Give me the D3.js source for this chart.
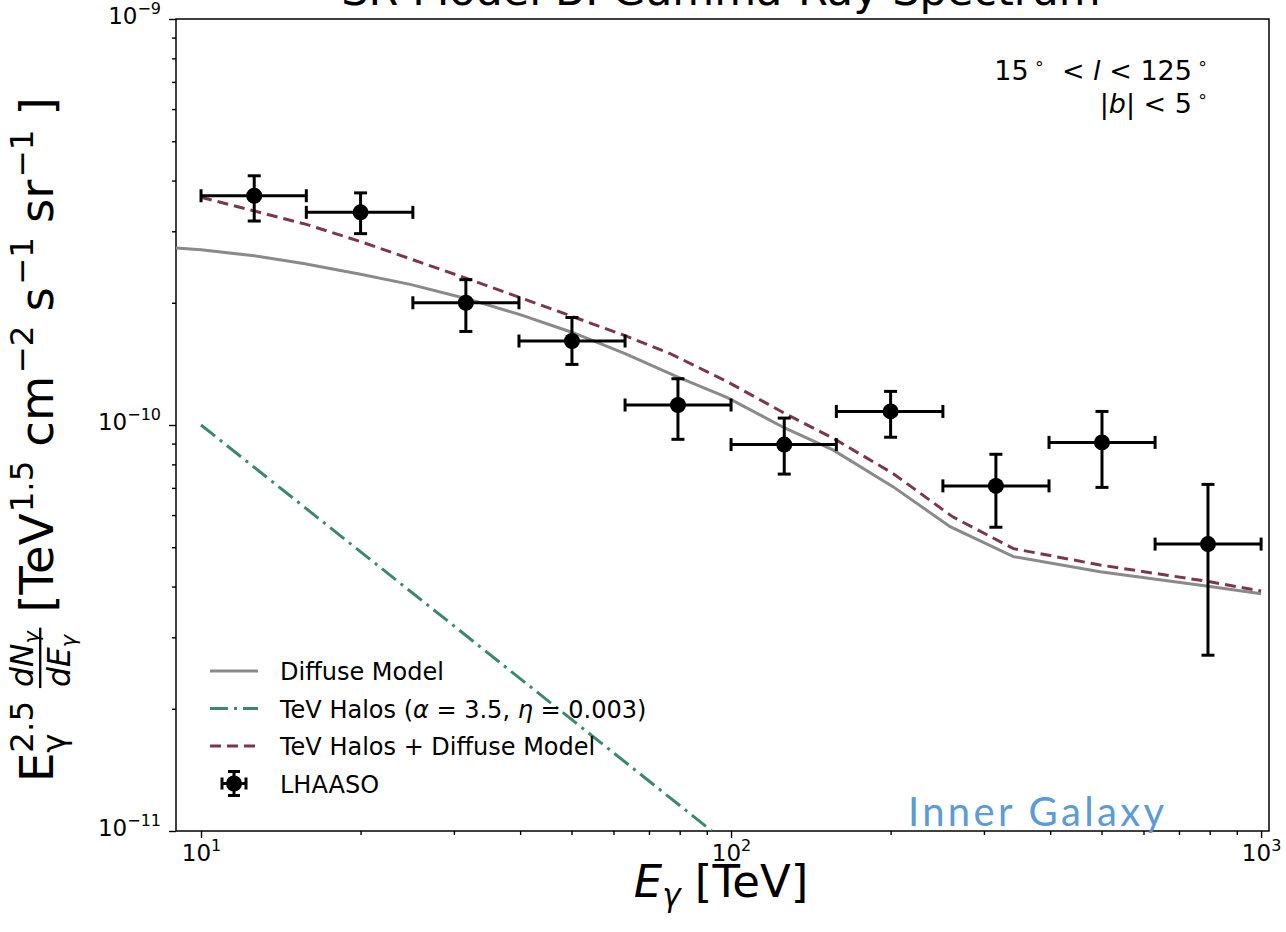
<!DOCTYPE html>
<html>
<head>
<meta charset="utf-8">
<script src="https://cdn.jsdelivr.net/npm/d3@7"></script>
<style>
  body { margin: 0; background: #fff; }
  text { font-family: "DejaVu Sans", sans-serif; fill: #000; }
</style>
</head>
<body>
<div class="canvas"></div>
<script>
// LHAASO points: bin centre / edges in TeV, flux and its error range
const binCentre = [12.6, 20.0, 31.6, 50.1, 79.4, 126, 200, 316, 501, 794];
const binLow = [10, 15.8, 25.1, 39.8, 63.1, 100, 158, 251, 398, 631];
const binHigh = [15.8, 25.1, 39.8, 63.1, 100, 158, 251, 398, 631, 1000];
const flux = [3.67e-10, 3.34e-10, 2.00e-10, 1.61e-10, 1.12e-10, 8.95e-11, 1.08e-10, 7.08e-11, 9.06e-11, 5.09e-11];
const fluxLow = [3.18e-10, 2.96e-10, 1.70e-10, 1.41e-10, 9.22e-11, 7.57e-11, 9.33e-11, 5.60e-11, 7.02e-11, 2.71e-11];
const fluxHigh = [4.11e-10, 3.73e-10, 2.28e-10, 1.84e-10, 1.30e-10, 1.04e-10, 1.21e-10, 8.47e-11, 1.08e-10, 7.14e-11];

// model curves
const diffuseE = [8.97, 10, 12.6, 15.6, 20.0, 24.8, 31.6, 40.0, 50.2, 63.1, 79.6, 98.2, 126.5, 156, 202, 259, 341, 497, 801, 1000];
const diffuseF = [2.73e-10, 2.70e-10, 2.61e-10, 2.50e-10, 2.35e-10, 2.22e-10, 2.05e-10, 1.87e-10, 1.69e-10, 1.50e-10, 1.31e-10, 1.17e-10, 9.82e-11, 8.67e-11, 7.05e-11, 5.62e-11, 4.74e-11, 4.35e-11, 4.00e-11, 3.84e-11];
const haloE = [10, 30, 92];
const haloF = [1.0e-10, 3.2e-11, 1.0e-11];
const combinedE = [10, 15.8, 20, 31.6, 40, 50.2, 63.1, 76.7, 98.2, 126, 156, 202, 262, 341, 497, 801, 1000];
const combinedF = [3.64e-10, 3.12e-10, 2.83e-10, 2.30e-10, 2.06e-10, 1.85e-10, 1.66e-10, 1.50e-10, 1.28e-10, 1.07e-10, 9.27e-11, 7.60e-11, 5.94e-11, 4.96e-11, 4.52e-11, 4.11e-11, 3.90e-11];

// ticks
const xMajorTicks = [10, 100, 1000];
const xTickExp = ['1', '2', '3'];
const xMinorTicks = [20, 30, 40, 50, 60, 70, 80, 90, 200, 300, 400, 500, 600, 700, 800, 900];
const yMajorTicks = [1e-11, 1e-10, 1e-9];
const yTickExp = ['\u221211', '\u221210', '\u22129'];
const yMinorTicks = [2e-11, 3e-11, 4e-11, 5e-11, 6e-11, 7e-11, 8e-11, 9e-11, 2e-10, 3e-10, 4e-10, 5e-10, 6e-10, 7e-10, 8e-10, 9e-10];

const legendLabels = ['Diffuse Model', 'TeV Halos', 'TeV Halos + Diffuse Model', 'LHAASO'];

const width = 1286;
const height = 932;
const margin = { top: 19, right: 17, bottom: 101, left: 176 };
const graphWidth = width - margin.left - margin.right;
const graphHeight = height - margin.top - margin.bottom;

const svg = d3.select('.canvas').append('svg')
  .attr('width', width)
  .attr('height', height);

const graph = svg.append('g')
  .attr('transform', `translate(${margin.left}, ${margin.top})`);

svg.append('defs').append('clipPath').attr('id', 'plot-clip')
  .append('rect').attr('width', graphWidth).attr('height', graphHeight);

const x = d3.scaleLog().domain([8.97, 1035]).range([0, graphWidth]);
const y = d3.scaleLog().domain([1e-11, 1e-9]).range([graphHeight, 0]);

// axes: minor ticks first, then major ticks with 10^n labels
const xMinorGroup = graph.append('g').attr('transform', `translate(0, ${graphHeight})`)
  .call(d3.axisBottom(x).tickValues(xMinorTicks).tickSize(4).tickFormat(''));
const xMajorGroup = graph.append('g').attr('transform', `translate(0, ${graphHeight})`)
  .call(d3.axisBottom(x).tickValues(xMajorTicks).tickSize(7).tickPadding(7).tickFormat(''));
const yMinorGroup = graph.append('g')
  .call(d3.axisLeft(y).tickValues(yMinorTicks).tickSize(4).tickFormat(''));
const yMajorGroup = graph.append('g')
  .call(d3.axisLeft(y).tickValues(yMajorTicks).tickSize(7).tickPadding(8).tickFormat(''));

[xMinorGroup, xMajorGroup, yMinorGroup, yMajorGroup].forEach(g => {
  g.select('.domain').remove();
  g.selectAll('line').attr('stroke', '#000').attr('stroke-width', 1.4);
});

xMajorGroup.selectAll('.tick text').each(function(d, i) {
  const t = d3.select(this).attr('font-size', 23).attr('font-family', 'DejaVu Sans');
  t.append('tspan').text('10');
  t.append('tspan').attr('dy', -10).attr('font-size', 16).text(xTickExp[i]);
});
yMajorGroup.selectAll('.tick text').each(function(d, i) {
  const t = d3.select(this).attr('font-size', 23).attr('font-family', 'DejaVu Sans').attr('dy', '0.2em');
  t.append('tspan').text('10');
  t.append('tspan').attr('dy', -10).attr('font-size', 16).text(yTickExp[i]);
});

// frame
graph.append('rect')
  .attr('width', graphWidth)
  .attr('height', graphHeight)
  .attr('fill', 'none')
  .attr('stroke', '#000')
  .attr('stroke-width', 1.5);

const plot = graph.append('g').attr('clip-path', 'url(#plot-clip)');

const line = d3.line().x(d => x(d[0])).y(d => y(d[1]));

plot.append('path')
  .attr('d', line(d3.zip(diffuseE, diffuseF)))
  .attr('fill', 'none').attr('stroke', '#8a8a8a').attr('stroke-width', 3);

plot.append('path')
  .attr('d', line(d3.zip(haloE, haloF)))
  .attr('fill', 'none').attr('stroke', '#3a8a6a').attr('stroke-width', 3)
  .attr('stroke-dasharray', '18,6,3,6');

plot.append('path')
  .attr('d', line(d3.zip(combinedE, combinedF)))
  .attr('fill', 'none').attr('stroke', '#7d3552').attr('stroke-width', 3)
  .attr('stroke-dasharray', '11,6');

// error bars
const points = binCentre.map((e, i) => ({
  e, lo: binLow[i], hi: binHigh[i], f: flux[i], fLo: fluxLow[i], fHi: fluxHigh[i]
}));
const bars = plot.selectAll('g.pt').data(points).enter().append('g').attr('class', 'pt')
  .attr('stroke', '#000').attr('stroke-width', 3);
bars.append('line')
  .attr('x1', d => x(d.lo)).attr('x2', d => x(d.hi))
  .attr('y1', d => y(d.f)).attr('y2', d => y(d.f));
bars.append('line')
  .attr('x1', d => x(d.e)).attr('x2', d => x(d.e))
  .attr('y1', d => y(d.fLo)).attr('y2', d => y(d.fHi));
[d => d.lo, d => d.hi].forEach(acc => {
  bars.append('line')
    .attr('x1', d => x(acc(d))).attr('x2', d => x(acc(d)))
    .attr('y1', d => y(d.f) - 6.5).attr('y2', d => y(d.f) + 6.5);
});
[d => d.fLo, d => d.fHi].forEach(acc => {
  bars.append('line')
    .attr('x1', d => x(d.e) - 6.5).attr('x2', d => x(d.e) + 6.5)
    .attr('y1', d => y(acc(d))).attr('y2', d => y(acc(d)));
});
bars.append('circle')
  .attr('cx', d => x(d.e)).attr('cy', d => y(d.f)).attr('r', 8)
  .attr('fill', '#000').attr('stroke', 'none');

// legend
const legend = svg.append('g').attr('transform', 'translate(210, 671)');
const rowH = 37.5;
legend.append('line').attr('x1', 0).attr('x2', 48).attr('y1', 0).attr('y2', 0)
  .attr('stroke', '#8a8a8a').attr('stroke-width', 3);
legend.append('line').attr('x1', 0).attr('x2', 48).attr('y1', rowH).attr('y2', rowH)
  .attr('stroke', '#3a8a6a').attr('stroke-width', 3).attr('stroke-dasharray', '18,6,3,6');
legend.append('line').attr('x1', 0).attr('x2', 48).attr('y1', 2 * rowH).attr('y2', 2 * rowH)
  .attr('stroke', '#7d3552').attr('stroke-width', 3).attr('stroke-dasharray', '11,6');
const lm = legend.append('g').attr('transform', `translate(24, ${3 * rowH})`)
  .attr('stroke', '#000').attr('stroke-width', 3);
lm.append('line').attr('x1', -12).attr('x2', 12);
lm.append('line').attr('y1', -12).attr('y2', 12);
lm.append('line').attr('x1', -12).attr('x2', -12).attr('y1', -6).attr('y2', 6);
lm.append('line').attr('x1', 12).attr('x2', 12).attr('y1', -6).attr('y2', 6);
lm.append('line').attr('x1', -6).attr('x2', 6).attr('y1', -12).attr('y2', -12);
lm.append('line').attr('x1', -6).attr('x2', 6).attr('y1', 12).attr('y2', 12);
lm.append('circle').attr('r', 8).attr('fill', '#000').attr('stroke', 'none');

legendLabels.forEach((label, i) => {
  const t = legend.append('text').attr('x', 70).attr('y', i * rowH + 9).attr('font-size', 24)
    .attr('xml:space', 'preserve');
  t.append('tspan').text(label);
  if (i === 1) {
    t.append('tspan').text(' (');
    t.append('tspan').attr('font-style', 'italic').text('\u03b1');
    t.append('tspan').text(' = 3.5, ');
    t.append('tspan').attr('font-style', 'italic').text('\u03b7');
    t.append('tspan').text(' = 0.003)');
  }
});

// region annotation
const ann1 = svg.append('text').attr('x', 1208).attr('y', 80).attr('font-size', 27)
  .attr('text-anchor', 'end').attr('xml:space', 'preserve');
ann1.append('tspan').text('15');
ann1.append('tspan').attr('dy', -11).attr('font-size', 17).text(' \u2218');
ann1.append('tspan').attr('dy', 11).text('  < ');
ann1.append('tspan').attr('font-style', 'italic').text('l');
ann1.append('tspan').text(' < 125');
ann1.append('tspan').attr('dy', -11).attr('font-size', 17).text(' \u2218');
const ann2 = svg.append('text').attr('x', 1208).attr('y', 113).attr('font-size', 27)
  .attr('text-anchor', 'end').attr('xml:space', 'preserve');
ann2.append('tspan').text('|');
ann2.append('tspan').attr('font-style', 'italic').text('b');
ann2.append('tspan').text('| < 5');
ann2.append('tspan').attr('dy', -11).attr('font-size', 17).text(' \u2218');

svg.append('text')
  .attr('x', 908).attr('y', 826)
  .attr('font-size', 40)
  .attr('textLength', 256)
  .style('font-family', 'Lato, "Open Sans", sans-serif')
  .style('fill', '#5b9bd8')
  .text('Inner Galaxy');

// title (top is cut off by the image edge)
svg.append('text')
  .attr('x', 721).attr('y', 5)
  .attr('font-size', 43)
  .attr('text-anchor', 'middle')
  .text('SR Model B: Gamma-Ray Spectrum');

// x label
const xl = svg.append('text').attr('x', 721).attr('y', 897).attr('font-size', 45)
  .attr('text-anchor', 'middle').attr('xml:space', 'preserve');
xl.append('tspan').attr('font-style', 'italic').text('E');
xl.append('tspan').attr('font-style', 'italic').attr('font-size', 31).attr('dy', 9).text('\u03b3');
xl.append('tspan').attr('dy', -9).text(' [TeV]');

// y label, laid out piece by piece then rotated and fitted to the reference length
const yl = svg.append('g');
let cx = 0;
function piece(str, size, dy, italic) {
  const t = yl.append('text').attr('x', cx).attr('y', dy).attr('font-size', size).text(str);
  if (italic) t.attr('font-style', 'italic');
  return t.node().getComputedTextLength();
}
cx += piece('E', 40, 0);
const w1 = piece('2.5', 28, -17);
const w2 = piece('\u03b3', 28, 10);
cx += Math.max(w1, w2) + 12;
// fraction dN/dE
const fx = cx;
let nw = 0, dw = 0;
cx = fx; nw += piece('dN', 27, -17, true); cx = fx + nw; nw += piece('\u03b3', 18, -12, true);
cx = fx; dw += piece('dE', 27, 15, true); cx = fx + dw; dw += piece('\u03b3', 18, 20, true);
const fw = Math.max(nw, dw) + 3;
yl.append('line').attr('x1', fx - 1).attr('x2', fx + fw).attr('y1', -11).attr('y2', -11)
  .attr('stroke', '#000').attr('stroke-width', 2);
cx = fx + fw + 13;
const units = [['[TeV', false], ['1.5', true], ['cm', false], ['\u22122', true], ['s', false], ['\u22121', true], ['sr', false], ['\u22121', true], [']', false]];
units.forEach(([s, sup]) => {
  if (sup) {
    cx += piece(s, 28, -17) + 12;
  } else {
    cx += piece(s, 40, 0) + (s === '[TeV' ? 1 : 2);
  }
});
const total = cx;
const k = 687 / total;
yl.attr('transform', `translate(53, ${438.5 + total * k / 2}) rotate(-90) scale(${k})`);
</script>
</body>
</html>
